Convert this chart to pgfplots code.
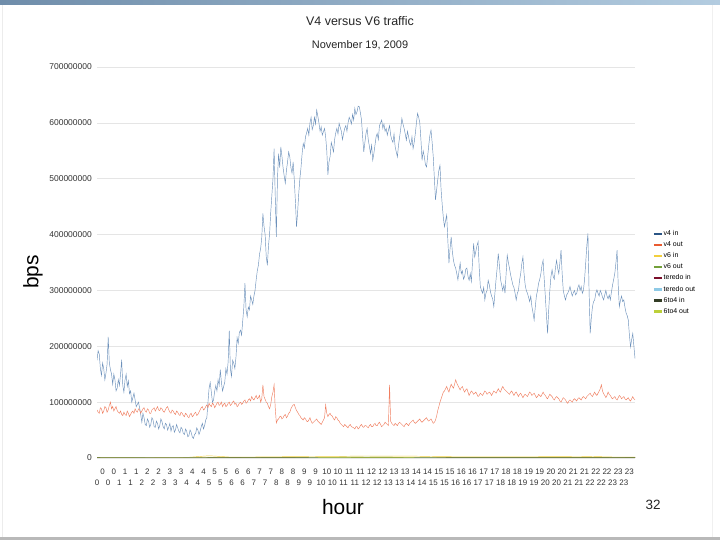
\documentclass[border=0pt]{standalone}
\usepackage{fontspec}
\setmainfont{Liberation Sans}
\usepackage{pgfplots}
\pgfplotsset{compat=1.18}
\usepackage{pgfplotstable}

\definecolor{vfin}{HTML}{2B5585}
\definecolor{vfinL}{HTML}{6D91BB}
\definecolor{vfout}{HTML}{E95B30}
\definecolor{vfoutL}{HTML}{F07E60}
\definecolor{vsin}{HTML}{F2CF3D}
\definecolor{vsout}{HTML}{73A03A}
\definecolor{tin}{HTML}{7B0F2B}
\definecolor{tout}{HTML}{8ECAE6}
\definecolor{sin}{HTML}{333D25}
\definecolor{sout}{HTML}{BCD03A}
\definecolor{barL}{HTML}{6F8DAA}
\definecolor{barR}{HTML}{B3CCE0}

\pgfplotstableread{
h in out
0.00 175 86
0.05 192 82
0.10 186 80
0.15 160 90
0.20 148 88
0.25 170 80
0.30 160 84
0.35 140 92
0.40 152 90
0.45 168 82
0.50 217 86
0.55 170 94
0.60 158 100
0.65 150 88
0.70 132 92
0.75 150 84
0.80 140 88
0.85 120 92
0.90 125 85
0.95 140 82
1.00 130 80
1.05 150 84
1.10 176 78
1.15 130 76
1.20 118 82
1.25 140 78
1.30 150 76
1.35 128 84
1.40 138 80
1.45 115 74
1.50 120 78
1.55 100 82
1.60 108 84
1.65 116 80
1.70 104 88
1.75 92 84
1.80 96 82
1.85 100 88
1.90 90 86
1.95 78 80
2.00 64 84
2.05 80 88
2.10 72 90
2.15 60 84
2.20 58 82
2.25 70 88
2.30 66 86
2.35 55 80
2.40 60 80
2.45 72 86
2.50 68 88
2.55 56 90
2.60 55 84
2.65 66 88
2.70 62 92
2.75 52 86
2.80 58 85
2.85 70 90
2.90 65 88
2.95 56 84
3.00 52 82
3.05 62 86
3.10 60 90
3.15 50 92
3.20 55 86
3.25 62 82
3.30 48 80
3.35 56 86
3.40 58 84
3.45 46 80
3.50 50 78
3.55 60 84
3.60 54 82
3.65 48 78
3.70 45 76
3.75 55 82
3.80 52 80
3.85 44 76
3.90 42 74
3.95 52 80
4.00 48 78
4.05 38 74
4.10 40 72
4.15 50 78
4.20 46 80
4.25 38 74
4.30 35 76
4.35 42 80
4.40 44 82
4.45 54 76
4.50 50 78
4.55 42 82
4.60 48 86
4.65 56 90
4.70 62 92
4.75 52 86
4.80 58 88
4.85 68 92
4.90 72 95
4.95 100 90
5.00 125 98
5.05 135 94
5.10 118 92
5.15 100 98
5.20 104 96
5.25 120 90
5.30 130 94
5.35 120 98
5.40 140 100
5.45 130 94
5.50 158 96
5.55 135 100
5.60 120 92
5.65 128 96
5.70 136 98
5.75 160 92
5.80 150 94
5.85 172 98
5.90 228 100
5.95 160 94
6.00 146 96
6.05 175 100
6.10 170 102
6.15 160 96
6.20 181 98
6.25 215 92
6.30 205 94
6.35 225 98
6.40 229 100
6.45 220 96
6.50 245 98
6.55 270 102
6.60 313 104
6.65 265 98
6.70 253 100
6.75 270 104
6.80 265 106
6.85 290 102
6.90 283 110
6.95 275 106
7.00 290 104
7.05 300 108
7.10 319 112
7.15 335 106
7.20 345 108
7.25 365 112
7.30 375 100
7.35 395 106
7.40 438 131
7.45 415 110
7.50 400 105
7.55 360 100
7.60 345 98
7.65 380 92
7.70 402 88
7.75 440 96
7.80 470 110
7.85 500 118
7.90 554 131
7.95 470 90
8.00 396 63
8.05 500 68
8.10 545 70
8.15 520 74
8.20 557 75
8.25 540 70
8.30 520 72
8.35 505 76
8.40 492 78
8.45 515 72
8.50 530 75
8.55 548 80
8.60 539 82
8.65 520 88
8.70 510 92
8.75 530 95
8.80 498 96
8.85 460 90
8.90 414 85
8.95 440 82
9.00 474 78
9.05 500 76
9.10 520 72
9.15 545 70
9.20 563 68
9.25 555 72
9.30 575 70
9.35 582 66
9.40 590 65
9.45 578 68
9.50 600 72
9.55 610 66
9.60 588 62
9.65 595 64
9.70 610 66
9.75 598 68
9.80 623 70
9.85 612 66
9.90 600 64
9.95 585 62
10.00 593 60
10.05 578 64
10.10 584 68
10.15 590 72
10.20 575 95
10.25 550 80
10.30 507 74
10.35 530 78
10.40 540 80
10.45 565 76
10.50 557 75
10.55 548 70
10.60 570 68
10.65 582 74
10.70 590 72
10.75 580 68
10.80 599 66
10.85 592 62
10.90 585 60
10.95 570 58
11.00 581 56
11.05 590 60
11.10 595 58
11.15 585 56
11.20 600 54
11.25 610 58
11.30 605 60
11.35 598 56
11.40 615 55
11.45 605 54
11.50 626 52
11.55 615 56
11.60 620 56
11.65 630 52
11.70 629 54
11.75 618 58
11.80 605 60
11.85 575 56
11.90 548 55
11.95 565 58
12.00 581 58
12.05 590 56
12.10 570 54
12.15 558 58
12.20 545 60
12.25 560 56
12.30 533 56
12.35 545 60
12.40 560 62
12.45 575 58
12.50 581 58
12.55 570 62
12.60 595 64
12.65 600 60
12.70 605 56
12.75 590 58
12.80 598 60
12.85 585 64
12.90 590 62
12.95 578 60
13.00 587 58
13.05 595 131
13.10 578 66
13.15 570 62
13.20 565 60
13.25 580 58
13.30 557 62
13.35 548 60
13.40 539 58
13.45 560 62
13.50 575 64
13.55 590 62
13.60 608 60
13.65 598 58
13.70 590 56
13.75 580 60
13.80 569 62
13.85 585 60
13.90 575 58
13.95 565 62
14.00 560 64
14.05 575 66
14.10 554 68
14.15 565 64
14.20 581 62
14.25 600 64
14.30 617 66
14.35 610 68
14.40 600 70
14.45 570 66
14.50 533 64
14.55 550 66
14.60 540 68
14.65 525 70
14.70 521 72
14.75 540 68
14.80 560 66
14.85 578 68
14.90 587 70
14.95 565 66
15.00 539 62
15.05 500 64
15.10 462 68
15.15 480 75
15.20 498 85
15.25 515 92
15.30 524 100
15.35 480 106
15.40 453 112
15.45 430 118
15.50 414 120
15.55 425 124
15.60 435 128
15.65 390 122
15.70 349 118
15.75 375 126
15.80 396 132
15.85 370 128
15.90 354 125
15.95 345 132
16.00 340 140
16.05 330 134
16.10 319 130
16.15 335 126
16.20 349 122
16.25 330 126
16.30 335 128
16.35 320 122
16.40 325 118
16.45 338 122
16.50 340 124
16.55 325 118
16.60 318 112
16.65 330 116
16.70 316 120
16.75 350 118
16.80 384 114
16.85 360 116
16.90 370 118
16.95 380 114
17.00 387 110
17.05 340 112
17.10 307 116
17.15 300 114
17.20 295 112
17.25 305 116
17.30 283 120
17.35 295 118
17.40 300 114
17.45 318 116
17.50 310 118
17.55 298 116
17.60 290 112
17.65 285 116
17.70 271 120
17.75 295 118
17.80 319 116
17.85 340 120
17.90 366 124
17.95 345 120
18.00 320 118
18.05 310 124
18.10 300 128
18.15 310 124
18.20 295 122
18.25 330 120
18.30 363 118
18.35 350 116
18.40 340 114
18.45 328 118
18.50 319 120
18.55 310 116
18.60 305 112
18.65 295 116
18.70 283 118
18.75 295 114
18.80 300 110
18.85 318 114
18.90 330 116
18.95 348 112
19.00 360 108
19.05 330 112
19.10 310 114
19.15 300 112
19.20 295 110
19.25 288 114
19.30 280 118
19.35 290 116
19.40 271 112
19.45 260 114
19.50 247 116
19.55 270 112
19.60 290 108
19.65 300 110
19.70 313 114
19.75 320 112
19.80 330 110
19.85 345 114
19.90 354 118
19.95 320 114
20.00 289 112
20.05 255 108
20.10 223 106
20.15 265 110
20.20 300 114
20.25 325 112
20.30 337 110
20.35 325 106
20.40 320 104
20.45 340 108
20.50 354 110
20.55 340 108
20.60 330 106
20.65 350 102
20.70 372 100
20.75 330 104
20.80 300 108
20.85 290 106
20.90 283 104
20.95 292 100
21.00 295 98
21.05 300 102
21.10 307 104
21.15 298 102
21.20 290 100
21.25 296 104
21.30 300 106
21.35 292 104
21.40 295 102
21.45 305 106
21.50 310 108
21.55 300 106
21.60 307 104
21.65 295 108
21.70 300 110
21.75 320 108
21.80 349 106
21.85 380 110
21.90 402 112
21.95 300 114
22.00 223 116
22.05 250 112
22.10 270 110
22.15 280 114
22.20 283 118
22.25 295 114
22.30 301 112
22.35 295 116
22.40 290 120
22.45 300 124
22.50 295 131
22.55 288 120
22.60 283 115
22.65 292 112
22.70 300 108
22.75 290 112
22.80 285 118
22.85 292 114
22.90 283 112
22.95 298 108
23.00 310 106
23.05 320 108
23.10 331 110
23.15 350 106
23.20 372 104
23.25 310 108
23.30 271 112
23.35 282 110
23.40 290 106
23.45 280 108
23.50 283 110
23.55 270 106
23.60 260 104
23.65 255 106
23.70 247 108
23.75 220 104
23.80 199 102
23.85 212 106
23.90 223 110
23.95 200 106
24.00 178 104
}\traffic

\pgfplotstableread{
h v6in v6out tin tout sin sout
0 1.2 0.6 0.2 0.3 0.5 0.3
1 1.0 0.5 0.2 0.3 0.4 0.3
2 0.9 0.5 0.2 0.2 0.4 0.2
3 0.8 0.4 0.2 0.2 0.3 0.2
4 1.0 0.5 0.2 0.2 0.3 0.2
5 4.0 1.0 0.3 0.3 0.5 0.3
6 1.5 0.8 0.3 0.4 0.6 0.3
7 1.8 0.9 0.3 0.4 0.7 0.4
8 2.2 1.0 0.3 0.4 0.8 0.4
9 2.5 1.2 0.4 0.5 0.8 0.4
10 2.8 1.3 0.4 0.5 0.9 0.5
11 3.0 1.4 0.4 0.5 0.9 0.5
12 3.6 1.5 0.4 0.5 1.0 0.5
13 3.2 1.4 0.4 0.5 1.0 0.5
14 3.4 1.3 0.4 0.5 0.9 0.5
15 2.6 1.2 0.4 0.5 0.9 0.4
16 2.2 1.1 0.3 0.4 0.8 0.4
17 2.0 1.0 0.3 0.4 0.8 0.4
18 2.2 1.0 0.3 0.4 0.7 0.4
19 2.0 1.0 0.3 0.4 0.7 0.4
20 2.4 1.1 0.3 0.4 0.7 0.4
21 2.6 1.2 0.3 0.4 0.7 0.4
22 2.8 1.1 0.3 0.4 0.6 0.3
23 1.8 0.9 0.3 0.3 0.6 0.3
24 1.5 0.8 0.2 0.3 0.5 0.3
}\minortable

\begin{document}
\begin{tikzpicture}[x=1bp,y=1bp]
\fill[white] (0,0) rectangle (720,540);
\shade[left color=barL, right color=barR] (0,535) rectangle (720,540);
\fill[gray!55] (0,0) rectangle (720,3);
\draw[gray!15, line width=1bp] (2,3) -- (2,535);
\draw[gray!12, line width=1bp] (712,3) -- (712,535);

\node[font=\fontsize{12.5}{13}\selectfont, text=black!85] at (360,519) {V4 versus V6 traffic};
\node[font=\fontsize{11}{12}\selectfont, text=black!85] at (360,495) {November 19, 2009};
\node[font=\fontsize{21}{22}\selectfont, rotate=90, text=black] at (33,268) {bps};
\node[font=\fontsize{21}{22}\selectfont, text=black] at (343,33) {hour};
\node[font=\fontsize{13.5}{14}\selectfont, text=black!85] at (653,35) {32};

\begin{axis}[
  at={(97bp,82bp)}, anchor=south west,
  scale only axis, width=538bp, height=391bp,
  xmin=0, xmax=24, ymin=0, ymax=700,
  axis line style={draw=none},
  major tick length=0pt,
  ymajorgrids, grid style={gray!20, line width=0.6bp},
  ytick={0,100,200,300,400,500,600,700},
  yticklabels={0,100000000,200000000,300000000,400000000,500000000,600000000,700000000},
  yticklabel style={font=\fontsize{8.5}{9}\selectfont, text=black!80, inner sep=0pt, anchor=east, xshift=-5bp},
  xtick={0.25,0.75,...,23.75},
  xticklabels={0,0,1,1,2,2,3,3,4,4,5,5,6,6,7,7,8,8,9,9,10,10,11,11,12,12,13,13,14,14,15,15,16,16,17,17,18,18,19,19,20,20,21,21,22,22,23,23},
  xticklabel style={font=\fontsize{8}{8}\selectfont, text=black!80, inner sep=0pt, text height=6bp, text depth=0bp, anchor=north, yshift=-10.7bp},
  extra x ticks={0,0.5,...,23.5},
  extra x tick labels={0,0,1,1,2,2,3,3,4,4,5,5,6,6,7,7,8,8,9,9,10,10,11,11,12,12,13,13,14,14,15,15,16,16,17,17,18,18,19,19,20,20,21,21,22,22,23,23},
  extra x tick style={xticklabel style={yshift=-10.6bp}},
  legend cell align=left,
  legend style={at={(axis description cs:1.0325,0.5836)}, anchor=north west, draw=none, fill=none,
    inner sep=0pt, row sep=3.6bp,
    font=\fontsize{7}{7}\selectfont,
    nodes={inner sep=0.5bp, text height=5bp, text depth=1.5bp}},
  legend image code/.code={\draw[#1, line width=2.5bp] (0bp,0bp) -- (8bp,0bp);},
  every axis plot/.append style={line width=0.45bp, mark=none},
]
\addplot[vfinL, legend image post style={vfin}] table[x=h, y=in] {\traffic};
\addplot[vfoutL, legend image post style={vfout}] table[x=h, y=out] {\traffic};
\addplot[vsin] table[x=h, y=v6in] {\minortable};
\addplot[vsout] table[x=h, y=v6out] {\minortable};
\addplot[tin] table[x=h, y=tin] {\minortable};
\addplot[tout] table[x=h, y=tout] {\minortable};
\addplot[sin] table[x=h, y=sin] {\minortable};
\addplot[sout] table[x=h, y=sout] {\minortable};
\legend{v4 in, v4 out, v6 in, v6 out, teredo in, teredo out, 6to4 in, 6to4 out}
\end{axis}
\end{tikzpicture}
\end{document}
